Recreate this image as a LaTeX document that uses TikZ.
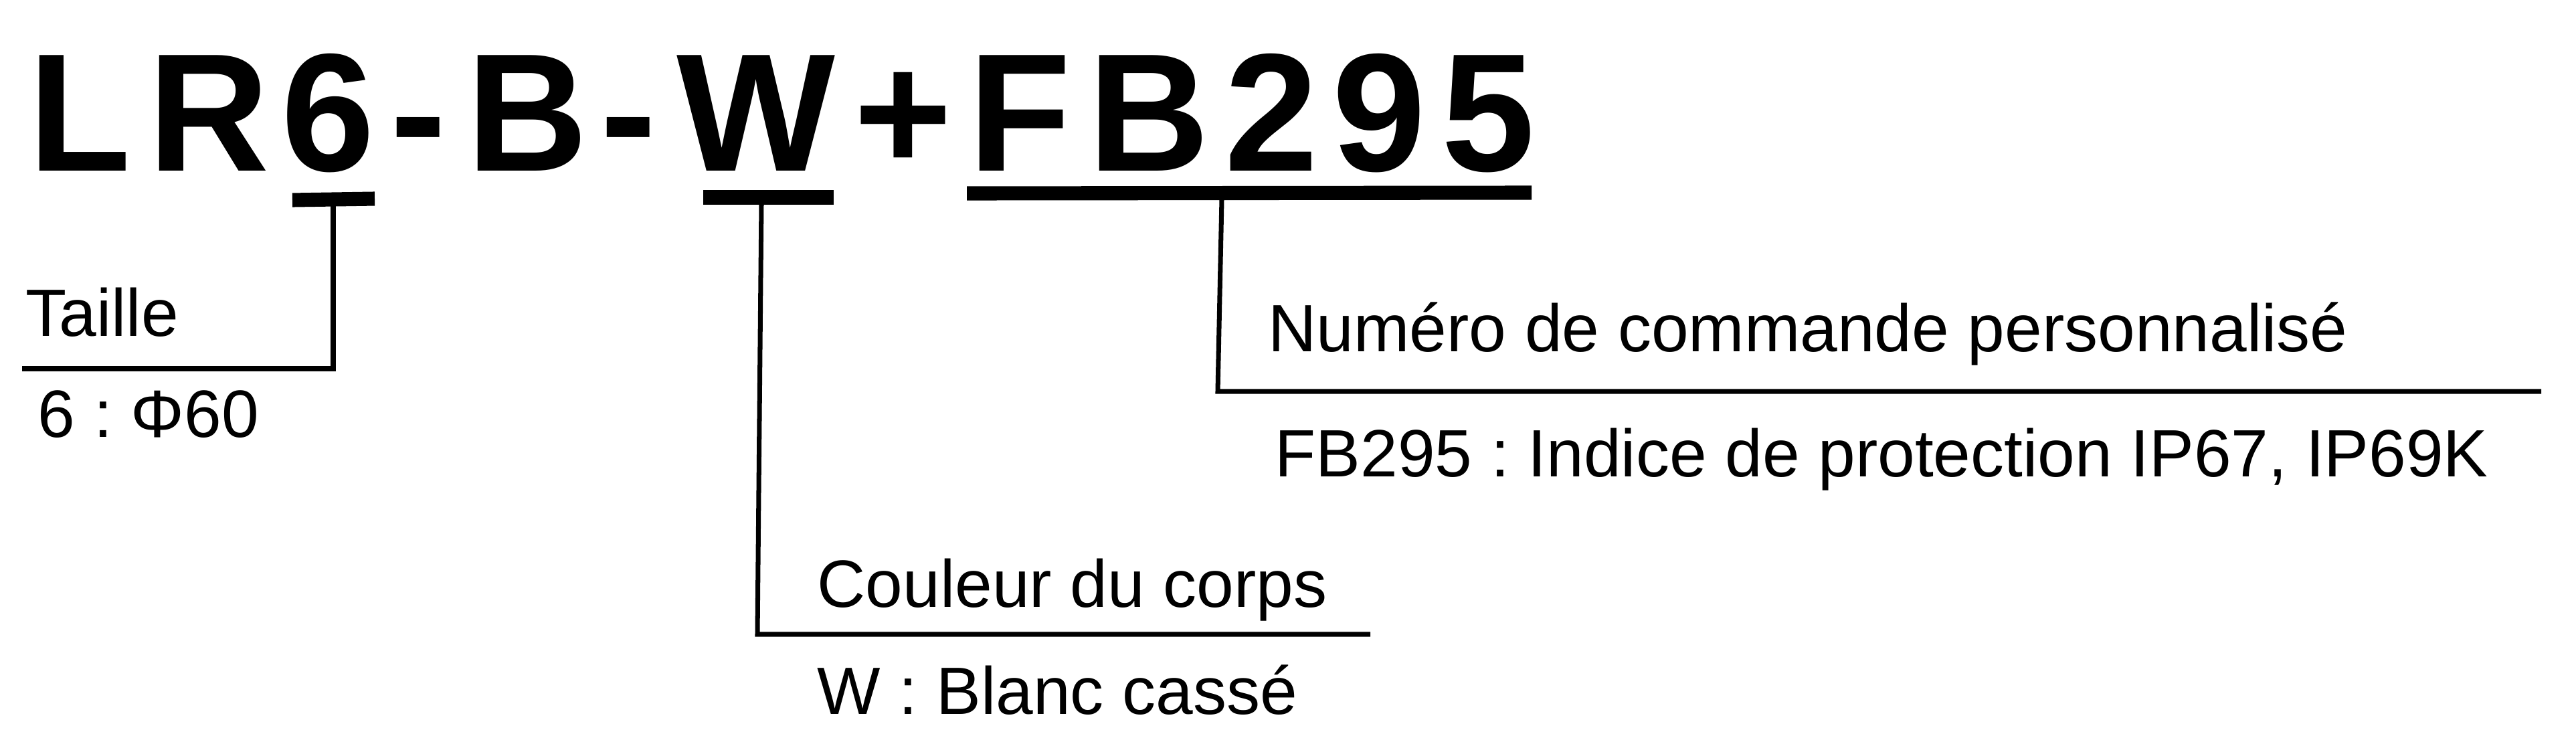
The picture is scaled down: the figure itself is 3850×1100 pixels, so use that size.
\documentclass[tikz,border=0pt]{standalone}
\usepackage{fontspec}
\setmainfont{Liberation Sans}
\frenchspacing

\begin{document}
\begin{tikzpicture}[
  x=0.01cm, y=-0.01cm,
  every node/.style={inner sep=0pt, anchor=base west},
  code/.style={font=\fontsize{71.4pt}{80pt}\selectfont\bfseries},
  lbl/.style={font=\fontsize{28.45pt}{34pt}\selectfont},
  bar/.style={line width=6pt},
  lead/.style={line width=2pt, line join=miter},
]
\useasboundingbox (0,0) rectangle (3850,1100);

% ---- the order code, glyph by glyph ----
\foreach \c/\x [count=\i] in {L/42, R/221, 6/420, -/583, B/697, -/897, W/1011,
                              +/1276, F/1447, B/1626, 2/1830, 9/1991, 5/2154}
  \node[code] (ch\i) at (\x,255) {\c};

% ---- labels ----
\node[lbl] (taille)     at (38,502)    {Taille};
\node[lbl] (tailleval)  at (56,653)    {6 : Φ60};
\node[lbl] (couleur)    at (1221,907)  {Couleur du corps};
\node[lbl] (couleurval) at (1221,1067) {W : Blanc cassé};
\node[lbl] (numero)     at (1895,525)  {Numéro de commande personnalisé};
\node[lbl] (numeroval)  at (1905,712)  {FB295 : Indice de protection IP67, IP69K};

% ---- bars under the code, leaders down to the labels ----
\draw[bar]  (437,299) -- (560,297);
\draw[lead] (498,308) -- (498,551) -- (33,551);

\draw[bar]  (1051,295) -- (1246,295);
\draw[lead] (1138,305) -- (1132,948) -- (2048,948);

\draw[bar]  (1445,289) -- (2289,288);
\draw[lead] (1826,298) -- (1820,585) -- (3798,585);
\end{tikzpicture}
\end{document}
